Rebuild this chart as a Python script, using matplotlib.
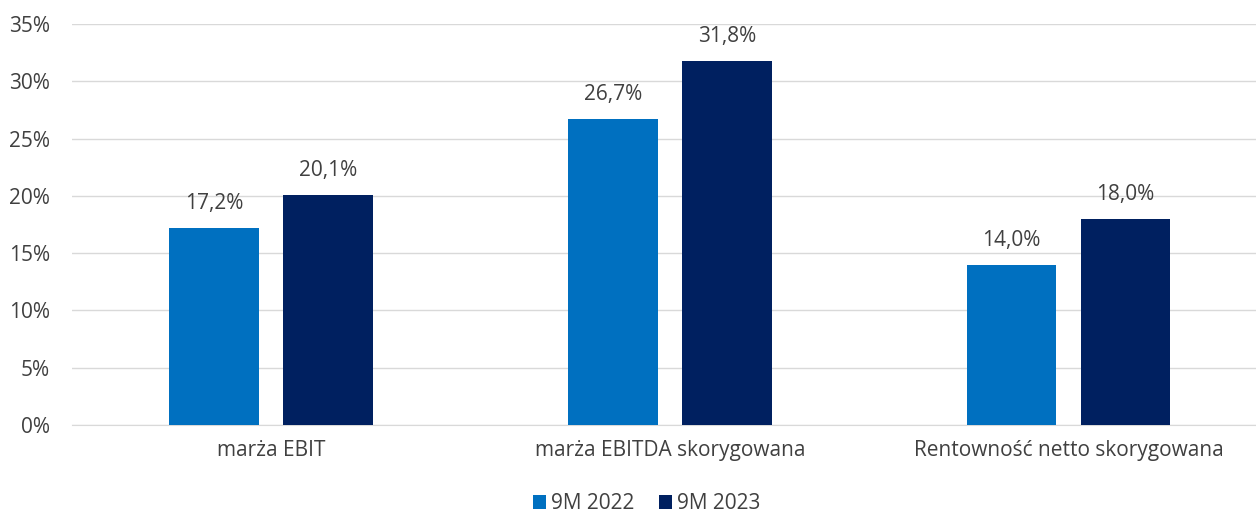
import matplotlib.pyplot as plt
import numpy as np

# Chart data
categories = ['marża EBIT', 'marża EBITDA skorygowana', 'Rentowność netto skorygowana']
series_names = ['9M 2022', '9M 2023']
values_2022 = [17.2, 26.7, 14.0]
values_2023 = [20.1, 31.8, 18.0]
yticks = [0, 5, 10, 15, 20, 25, 30, 35]

colors = ['#0070C0', '#002060']
text_color = '#404040'

plt.rcParams['font.family'] = ['Open Sans', 'DejaVu Sans']

fig = plt.figure(figsize=(12.56, 5.15), dpi=100)
ax = fig.add_axes([72 / 1256, 90 / 515, 1184 / 1256, 401 / 515])

x = np.arange(len(categories))
width = 0.225
offset = 0.143

for vals, name, col, sign in [(values_2022, series_names[0], colors[0], -1),
                              (values_2023, series_names[1], colors[1], 1)]:
    bars = ax.bar(x + sign * offset, vals, width, color=col, label=name, zorder=3)
    for b, v in zip(bars, vals):
        ax.text(b.get_x() + b.get_width() / 2, v + 1.2, f'{v:.1f}%'.replace('.', ','),
                ha='center', va='bottom', fontsize=15, color=text_color)

ax.set_xlim(-0.5, 2.47)
ax.set_ylim(0, 35)
ax.set_yticks(yticks)
ax.set_yticklabels([f'{t}%' for t in yticks])
ax.set_xticks(x)
ax.set_xticklabels(categories)
ax.tick_params(axis='both', length=0, labelsize=15, colors=text_color)
ax.tick_params(axis='x', pad=11)
ax.tick_params(axis='y', pad=16)
ax.grid(axis='y', color='#D9D9D9', linewidth=1, zorder=0)
for s in ['top', 'right', 'left']:
    ax.spines[s].set_visible(False)
ax.spines['bottom'].set_color('#D9D9D9')

leg = fig.legend(loc='lower center', bbox_to_anchor=(0.515, -0.035), ncol=2, frameon=False,
                 fontsize=15, handlelength=0.6, handleheight=0.7, handletextpad=0.25,
                 columnspacing=1.2)
for t in leg.get_texts():
    t.set_color(text_color)

fig.savefig('out.png', dpi=100)
